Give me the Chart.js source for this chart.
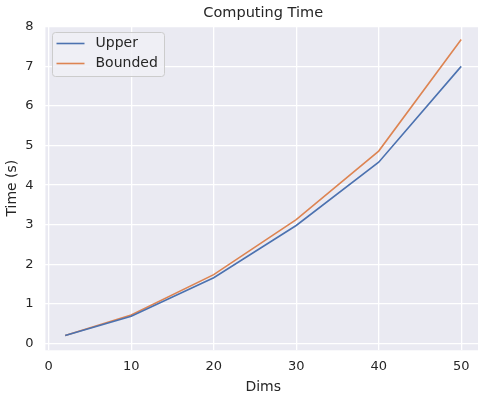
<!DOCTYPE html>
<html>
<head>
<meta charset="utf-8">
<script src="https://cdn.jsdelivr.net/npm/chart.js@4/dist/chart.umd.min.js"></script>
<style>
  html, body { margin: 0; padding: 0; background: #fff; overflow: hidden; }
  canvas { display: block; }
</style>
</head>
<body>
<canvas id="timeChart" width="481" height="396"></canvas>
<script>
// data
var dims = [2, 10, 20, 30, 40, 50];
var upper = [0.2, 0.69, 1.66, 2.98, 4.58, 7.0];
var bounded = [0.2, 0.72, 1.74, 3.13, 4.86, 7.68];
var xTicks = [0, 10, 20, 30, 40, 50];
var yTicks = [0, 1, 2, 3, 4, 5, 6, 7, 8];

var textColor = '#262626';
var font = 'DejaVu Sans';

function pairs(xs, ys) {
    return xs.map(function (x, i) { return { x: x, y: ys[i] }; });
}

// grey plot background + matplotlib-style legend in the upper left
var darkgrid = {
    id: 'darkgrid',
    beforeDraw: function (chart) {
        var a = chart.chartArea, c = chart.ctx;
        c.save();
        c.fillStyle = '#EAEAF2';
        c.fillRect(a.left, a.top, a.right - a.left, a.bottom - a.top);
        c.restore();
    },
    afterDatasetsDraw: function (chart) {
        var a = chart.chartArea, c = chart.ctx;
        var x0 = Math.round(a.left + 7) + 0.5, y0 = Math.round(a.top + 5.5) + 0.5;
        var rowH = 20;
        var sets = chart.data.datasets;
        c.save();
        c.font = '14px ' + font;
        var textW = 0;
        sets.forEach(function (d) { textW = Math.max(textW, c.measureText(d.label).width); });
        var w = Math.round(43 + textW + 7), h = 44;
        c.fillStyle = 'rgba(240,240,246,0.85)';
        c.strokeStyle = '#CCCCCC';
        c.lineWidth = 1;
        c.beginPath();
        c.roundRect(x0, y0, w, h, 3);
        c.fill();
        c.stroke();
        c.textBaseline = 'middle';
        c.textAlign = 'left';
        sets.forEach(function (d, i) {
            var y = y0 + 11 + i * rowH;
            c.strokeStyle = d.borderColor;
            c.lineWidth = 1.6;
            c.beginPath();
            c.moveTo(x0 + 4, y);
            c.lineTo(x0 + 32, y);
            c.stroke();
            c.fillStyle = textColor;
            c.fillText(d.label, x0 + 43, y);
        });
        c.restore();
    }
};

var ctx = document.getElementById('timeChart').getContext('2d');

var chart = new Chart(ctx, {
    type: 'line',
    data: {
        datasets: [{
            label: 'Upper',
            data: pairs(dims, upper),
            borderColor: '#4C72B0',
            backgroundColor: '#4C72B0',
            borderWidth: 1.6,
            pointRadius: 0,
            fill: false,
            tension: 0
        }, {
            label: 'Bounded',
            data: pairs(dims, bounded),
            borderColor: '#DD8452',
            backgroundColor: '#DD8452',
            borderWidth: 1.6,
            pointRadius: 0,
            fill: false,
            tension: 0
        }]
    },
    options: {
        responsive: false,
        animation: false,
        devicePixelRatio: 1,
        layout: { padding: 0 },
        plugins: {
            title: {
                display: true,
                text: 'Computing Time',
                fullSize: false,
                color: textColor,
                font: { family: font, size: 14.5, weight: 'normal' },
                padding: { top: 5, bottom: 3.6 }
            },
            legend: { display: false },
            tooltip: { enabled: false }
        },
        scales: {
            x: {
                type: 'linear',
                min: -0.4,
                max: 52.4,
                afterBuildTicks: function (s) { s.ticks = xTicks.map(function (v) { return { value: v }; }); },
                afterFit: function (s) { s.height = 45.7; },
                grid: { color: '#FFFFFF', lineWidth: 1.3, drawTicks: false },
                border: { display: false },
                ticks: { color: textColor, font: { family: font, size: 13 }, padding: 9, maxRotation: 0 },
                title: {
                    display: true,
                    text: 'Dims',
                    color: textColor,
                    font: { family: font, size: 14 },
                    padding: { top: 0, bottom: 0 }
                }
            },
            y: {
                min: -0.1725,
                max: 8.02,
                afterBuildTicks: function (s) { s.ticks = yTicks.map(function (v) { return { value: v }; }); },
                afterFit: function (s) { s.width = 45.4; },
                grid: { color: '#FFFFFF', lineWidth: 1.3, drawTicks: false },
                border: { display: false },
                ticks: { color: textColor, font: { family: font, size: 13 }, padding: 12 },
                title: {
                    display: true,
                    text: 'Time (s)',
                    color: textColor,
                    font: { family: font, size: 14 },
                    padding: { top: 4, bottom: 0 }
                }
            }
        }
    },
    plugins: [darkgrid]
});
</script>
</body>
</html>
